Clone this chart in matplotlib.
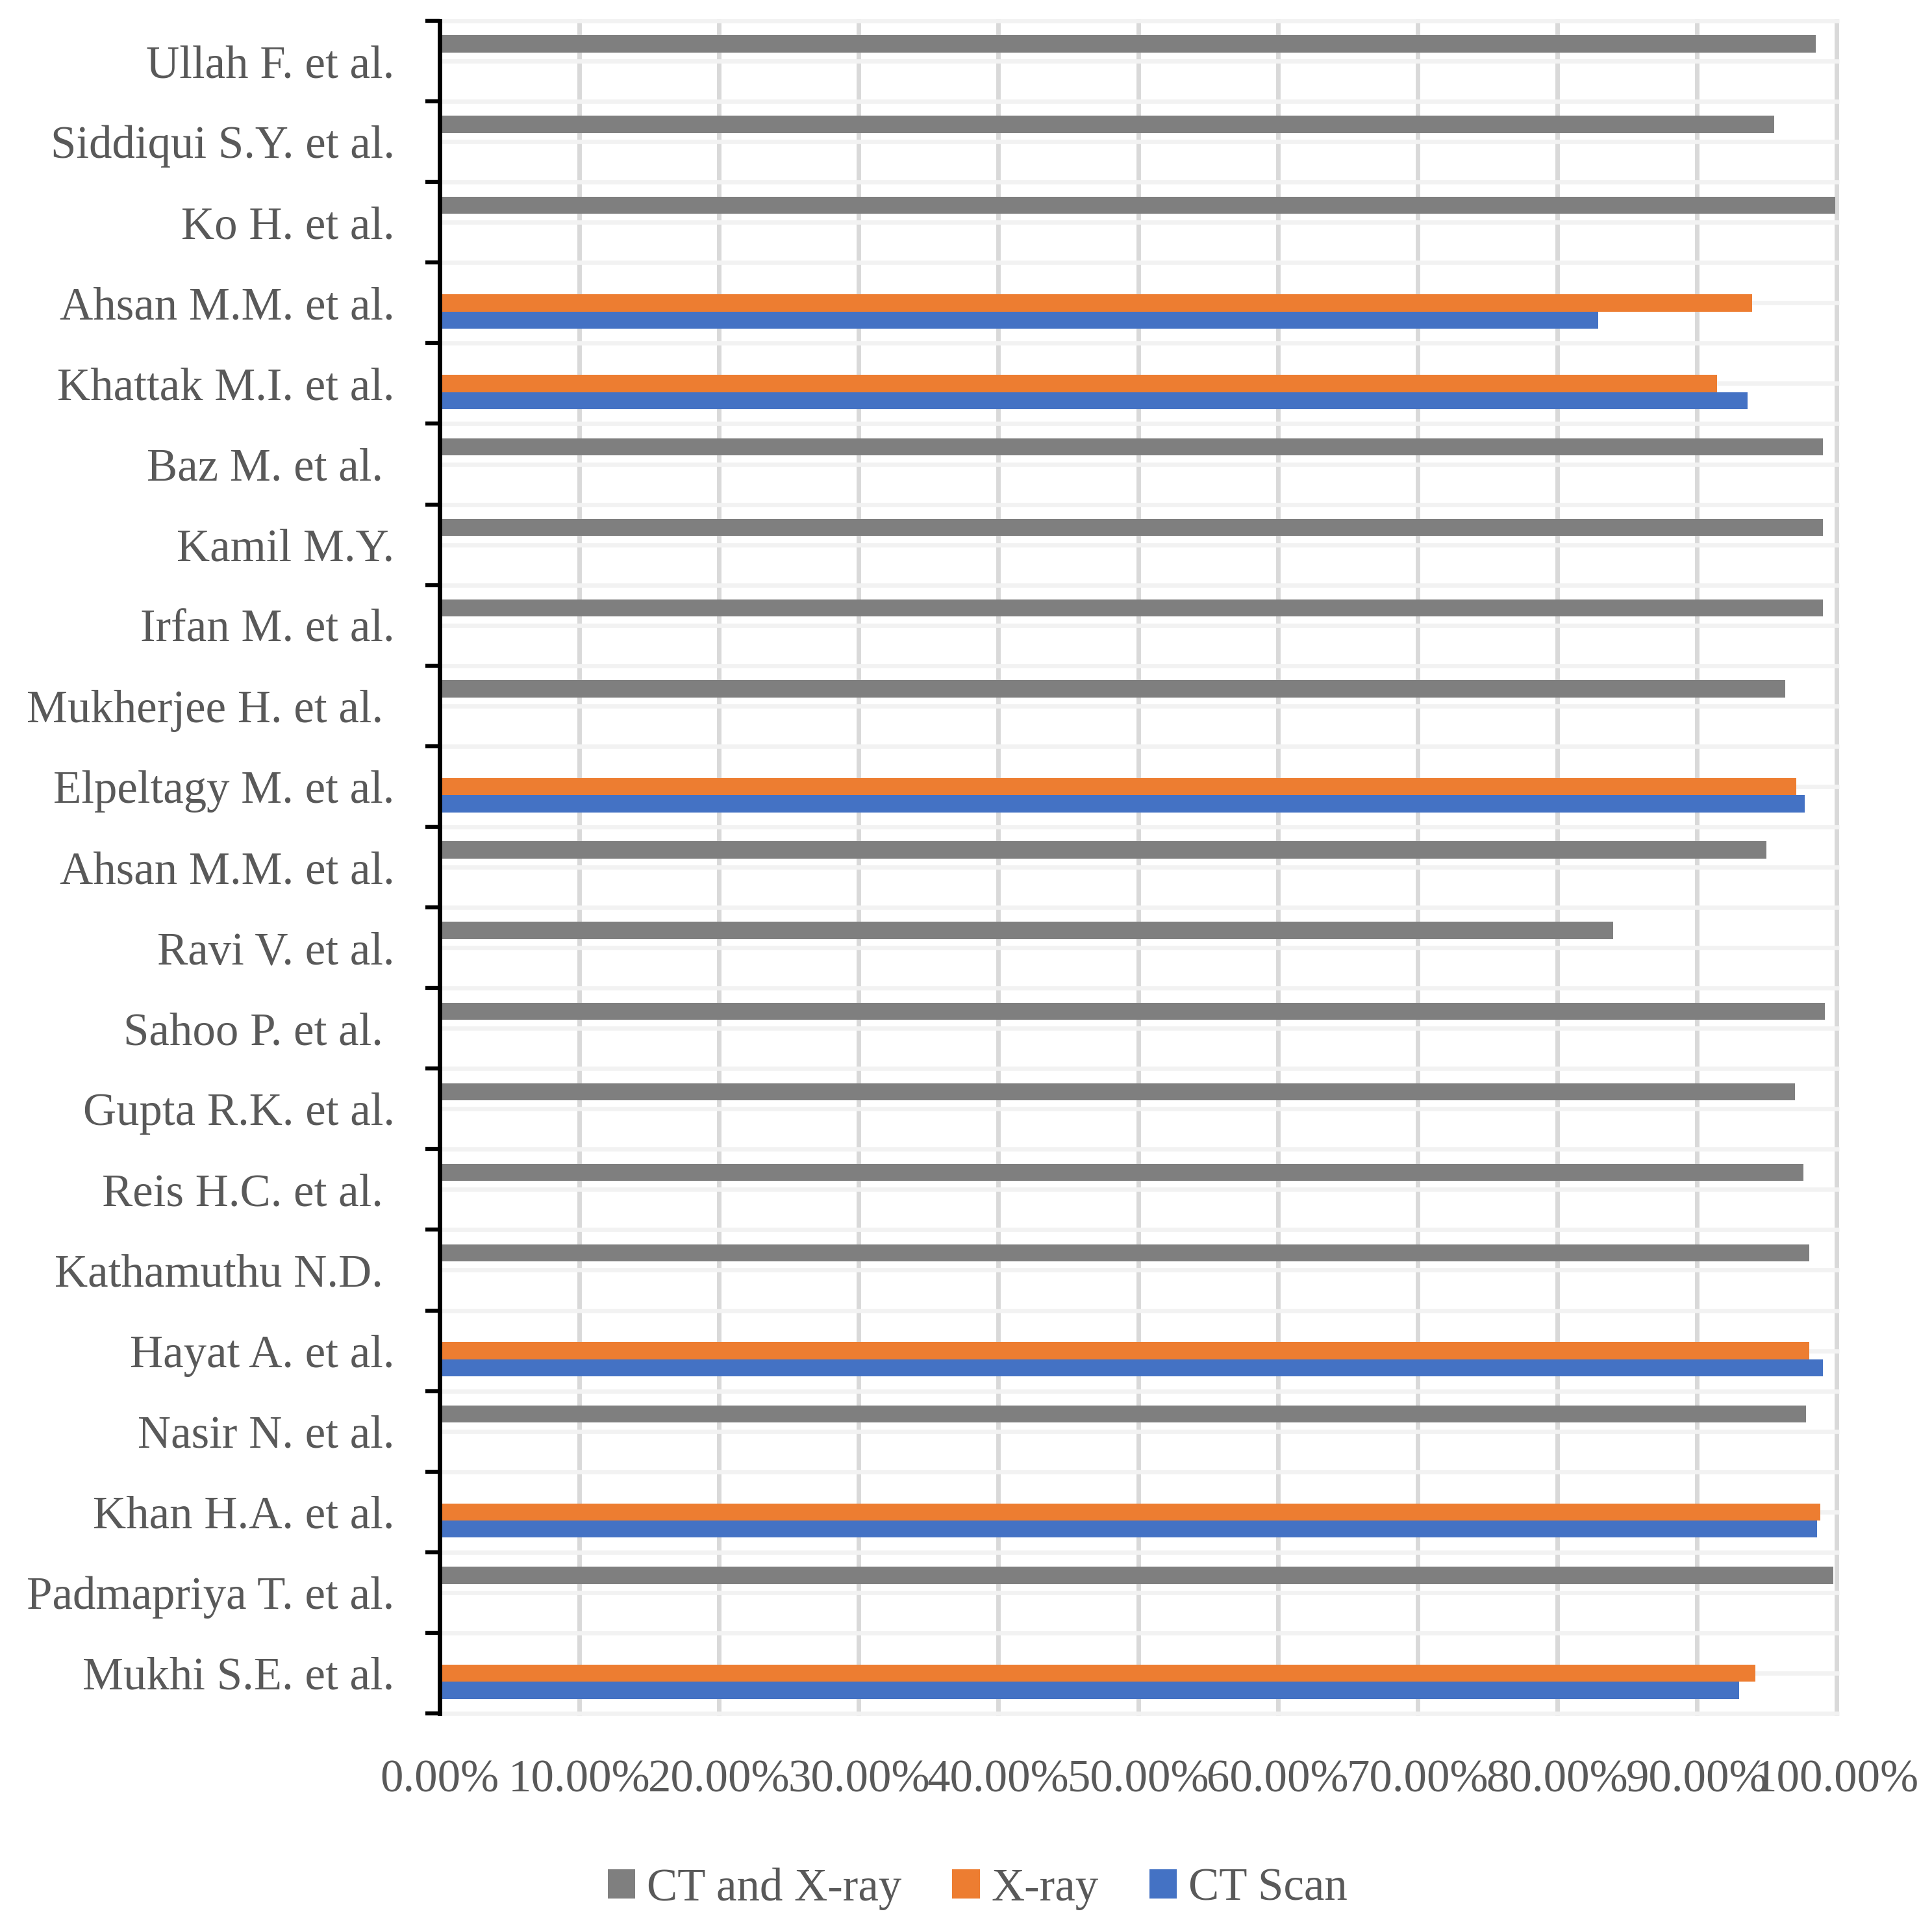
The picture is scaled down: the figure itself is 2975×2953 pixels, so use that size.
import numpy as np
import matplotlib
matplotlib.use('Agg')
import matplotlib.pyplot as plt

# studies, top to bottom as in the chart
studies = ['Ullah F. et al.', 'Siddiqui S.Y. et al.', 'Ko H. et al.',
           'Ahsan M.M. et al.', 'Khattak M.I. et al.', 'Baz M. et al. ',
           'Kamil M.Y.', 'Irfan M. et al.', 'Mukherjee H. et al. ',
           'Elpeltagy M. et al.', 'Ahsan M.M. et al.', 'Ravi V. et al.',
           'Sahoo P. et al. ', 'Gupta R.K. et al.', 'Reis H.C. et al. ',
           'Kathamuthu N.D. ', 'Hayat A. et al.', 'Nasir N. et al.',
           'Khan H.A. et al.', 'Padmapriya T. et al.', 'Mukhi S.E. et al.']

# accuracy in percent, None = not reported
ct_and_xray = [98.51, 95.53, 99.9, None, None, 99.02,
               99.02, 99.02, 96.33, None, 94.98, 84.0,
               99.16, 97.02, 97.63, 98.05, None, 97.81,
               None, 99.77, None]
xray = [None, None, None, 93.95, 91.44, None,
        None, None, None, 97.12, None, None,
        None, None, None, None, 98.05, None,
        98.84, None, 94.19]
ct_scan = [None, None, None, 82.93, 93.63, None,
           None, None, None, 97.72, None, None,
           None, None, None, None, 99.02, None,
           98.6, None, 93.02]

xticks = np.arange(0, 101, 10)

text_col = '#595959'
plt.rcParams['font.family'] = ['Liberation Serif', 'DejaVu Serif']
plt.rcParams['font.size'] = 51

fig = plt.figure(figsize=(29.75, 29.53), dpi=100)
ax = fig.add_axes([677/2975, 1-2638/2953, (2828-677)/2975, (2638-32)/2953])

y = np.arange(len(studies))
h = 0.213


def draw(vals, offset, color, label):
    idx = [i for i, v in enumerate(vals) if v is not None]
    w = [vals[i] for i in idx]
    ax.barh(y[idx] + offset, w, height=h, color=color, label=label, zorder=3)


draw(ct_and_xray, -h, '#7f7f7f', 'CT and X-ray')
draw(xray, 0, '#ed7d31', 'X-ray')
draw(ct_scan, h, '#4472c4', 'CT Scan')

ax.set_xlim(0, 100)
ax.set_ylim(len(studies) - 0.5, -0.5)

# vertical gridlines
for xv in xticks[1:]:
    ax.axvline(xv, color='#d9d9d9', lw=5, zorder=1, clip_on=False)
# light horizontal lines at every half category
for yv in np.arange(-0.5, len(studies), 0.5):
    ax.plot([0, 100.2], [yv, yv], color='#f2f2f2', lw=4.8, zorder=2,
            clip_on=False, solid_capstyle='butt')

ax.set_xticks(xticks)
ax.set_xticklabels(['{:.2f}%'.format(v) for v in xticks], color=text_col)
ax.tick_params(axis='x', length=0, pad=51)

ax.set_yticks(y)
ax.set_yticklabels(studies, color=text_col)
ax.set_yticks(np.arange(-0.5, len(studies)), minor=True)
ax.tick_params(axis='y', which='major', length=0, pad=50)
ax.tick_params(axis='y', which='minor', length=16, width=4.5, color='black',
               direction='out')

for s in ['top', 'right', 'bottom']:
    ax.spines[s].set_visible(False)
ax.spines['left'].set_linewidth(5)
ax.spines['left'].set_color('black')
ax.spines['left'].set_zorder(5)

leg = fig.legend(loc='center', bbox_to_anchor=(0.506, 1-2908/2953), ncol=3,
                 frameon=False, handlelength=0.6, handleheight=0.6,
                 handletextpad=0.25, columnspacing=1.1, fontsize=51)
for t in leg.get_texts():
    t.set_color(text_col)

fig.savefig('out.png', dpi=100)
plt.close()
